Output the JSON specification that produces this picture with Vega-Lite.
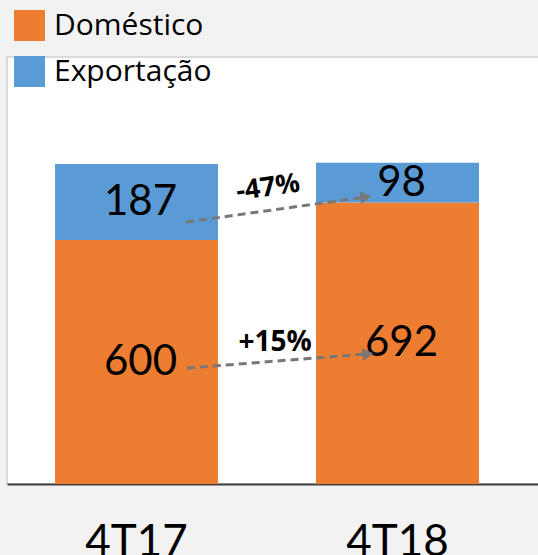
{
  "$schema": "https://vega.github.io/schema/vega-lite/v6.json",
  "width": 540,
  "height": 427,
  "autosize": {"type": "none"},
  "padding": {"left": 7, "top": 57, "right": 0, "bottom": 71},
  "background": "#f2f2f2",
  "config": {"view": {"fill": "white", "stroke": "#cfcfcf", "strokeWidth": 1.5}},
  "datasets": {
    "bars": [
      {"periodo": "4T17", "tipo": "Doméstico", "valor": 600},
      {"periodo": "4T17", "tipo": "Exportação", "valor": 187},
      {"periodo": "4T18", "tipo": "Doméstico", "valor": 692},
      {"periodo": "4T18", "tipo": "Exportação", "valor": 98}
    ],
    "arrows": [
      {"id": "exp", "x": 0.19, "y": 644, "x2": 0.879, "y2": 706},
      {"id": "dom", "x": 0.193, "y": 285, "x2": 0.887, "y2": 320}
    ],
    "pct": [
      {"id": "exp", "txt": "-47%", "x": 0.504, "y": 728},
      {"id": "dom", "txt": "+15%", "x": 0.531, "y": 347}
    ]
  },
  "layer": [
    {
      "layer": [
        {
          "data": {"name": "bars"},
          "mark": {"type": "bar"},
          "encoding": {
            "x": {
              "field": "periodo", "type": "nominal",
              "scale": {"paddingInner": 0.3755, "paddingOuter": 0.2223, "align": 0.414},
              "axis": {"title": null, "labelAngle": 0, "ticks": false, "domainColor": "#404040", "domainWidth": 2,
                       "labelFont": "Lato", "labelFontSize": 44, "labelColor": "#000000", "labelPadding": 36}
            },
            "y": {"field": "valor", "type": "quantitative", "stack": "zero",
                  "scale": {"domain": [0, 1050], "nice": false}, "axis": null},
            "color": {
              "field": "tipo", "type": "nominal",
              "scale": {"domain": ["Doméstico", "Exportação"], "range": ["#ED7D31", "#5B9BD5"]},
              "legend": {"orient": "none", "legendX": 7, "legendY": -47, "padding": 0, "title": null,
                         "symbolType": "square", "symbolSize": 961, "symbolStrokeWidth": 0, "symbolOpacity": 1,
                         "labelFont": "Open Sans", "labelFontSize": 30, "labelColor": "#000000",
                         "labelOffset": 9, "rowPadding": 15}
            },
            "order": {"field": "tipo", "type": "nominal", "sort": "ascending"}
          }
        },
        {
          "data": {"name": "bars"},
          "mark": {"type": "text", "font": "Lato", "fontSize": 42, "color": "#000000", "dx": 4, "baseline": "middle"},
          "encoding": {
            "x": {"field": "periodo", "type": "nominal"},
            "y": {"field": "valor", "type": "quantitative", "stack": "zero", "bandPosition": 0.5},
            "detail": {"field": "tipo"},
            "order": {"field": "tipo", "type": "nominal", "sort": "ascending"},
            "text": {"field": "valor", "type": "quantitative"}
          }
        }
      ]
    },
    {
      "layer": [
        {
          "data": {"name": "arrows"},
          "mark": {"type": "rule", "color": "#777777", "strokeWidth": 3, "strokeDash": [8, 5]},
          "encoding": {
            "x": {"field": "x", "type": "quantitative", "scale": {"domain": [-0.496, 1.5728], "nice": false, "zero": false}, "axis": null},
            "y": {"field": "y", "type": "quantitative"},
            "x2": {"field": "x2"},
            "y2": {"field": "y2"}
          }
        },
        {
          "data": {"name": "arrows"},
          "transform": [{"filter": "datum.id == 'exp'"}],
          "mark": {"type": "point", "shape": "triangle-right", "filled": true, "color": "#777777", "opacity": 1, "size": 160, "angle": 352},
          "encoding": {
            "x": {"field": "x2", "type": "quantitative"},
            "y": {"field": "y2", "type": "quantitative"}
          }
        },
        {
          "data": {"name": "arrows"},
          "transform": [{"filter": "datum.id == 'dom'"}],
          "mark": {"type": "point", "shape": "triangle-right", "filled": true, "color": "#777777", "opacity": 1, "size": 160, "angle": 355},
          "encoding": {
            "x": {"field": "x2", "type": "quantitative"},
            "y": {"field": "y2", "type": "quantitative"}
          }
        },
        {
          "data": {"name": "pct"},
          "transform": [{"filter": "datum.id == 'exp'"}],
          "mark": {"type": "text", "font": "Open Sans", "fontWeight": "bold", "fontSize": 27, "color": "#000000", "angle": 352, "baseline": "middle"},
          "encoding": {
            "x": {"field": "x", "type": "quantitative"},
            "y": {"field": "y", "type": "quantitative"},
            "text": {"field": "txt"}
          }
        },
        {
          "data": {"name": "pct"},
          "transform": [{"filter": "datum.id == 'dom'"}],
          "mark": {"type": "text", "font": "Open Sans", "fontWeight": "bold", "fontSize": 28, "color": "#000000", "baseline": "middle"},
          "encoding": {
            "x": {"field": "x", "type": "quantitative"},
            "y": {"field": "y", "type": "quantitative"},
            "text": {"field": "txt"}
          }
        }
      ]
    }
  ],
  "resolve": {"scale": {"x": "independent"}}
}
